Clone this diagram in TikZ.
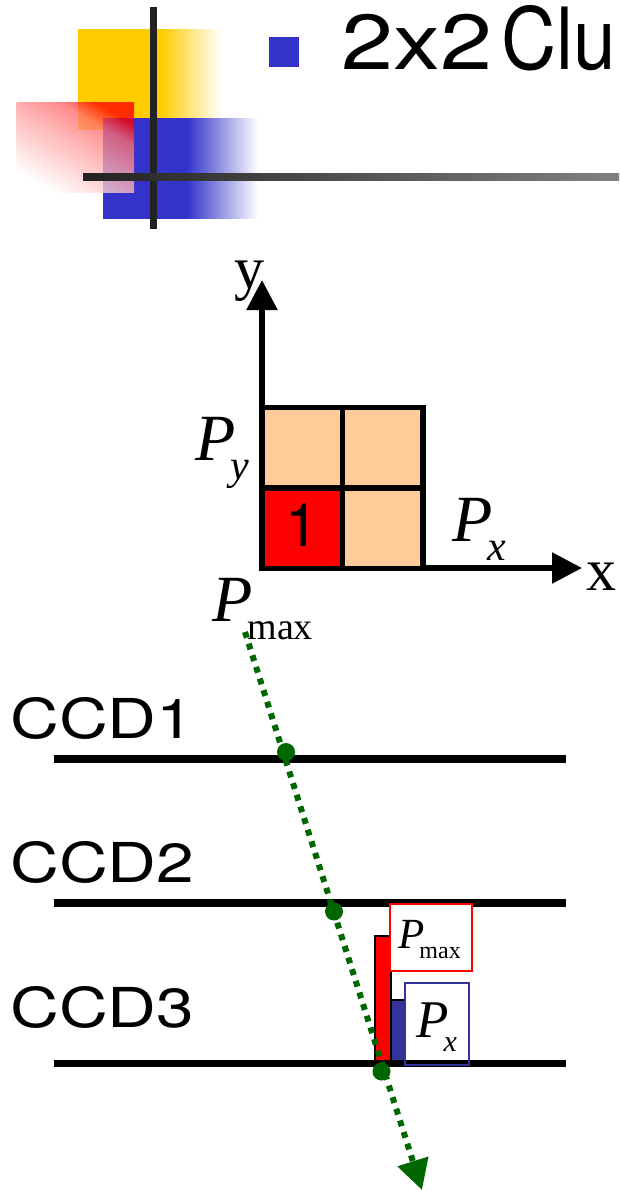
\documentclass[tikz,border=0pt]{standalone}
\usepackage{fontspec}
\setmainfont{Liberation Serif}
\newfontfamily\headfont{TeX Gyre Heros}
\usetikzlibrary{arrows.meta}
\definecolor{cBullet}{HTML}{3333CC}
\definecolor{cGold}  {HTML}{FFCC00}
\definecolor{cDark}  {HTML}{222222}
\definecolor{cCell}  {HTML}{FFCC99}
\definecolor{cRay}   {HTML}{006600}
\definecolor{cBar}   {HTML}{333399}
\pgfdeclarehorizontalshading{goldfade}{100bp}{color(0bp)=(cGold); color(54bp)=(cGold); color(75bp)=(white); color(100bp)=(white)}
\pgfdeclarehorizontalshading{bluefade}{100bp}{color(0bp)=(cBullet); color(52bp)=(cBullet); color(75bp)=(white); color(100bp)=(white)}
\pgfdeclareverticalshading{redfade}{100bp}{color(0bp)=(white); color(25bp)=(white); color(52bp)=(red!36!white); color(66bp)=(red!58!white); color(75bp)=(red); color(100bp)=(red)}
\tikzset{
  cellbox/.style={draw=black, line width=5.5pt, minimum size=80.5pt, inner sep=0pt},
  axisline/.style={line width=5.5pt, -{Triangle[length=30pt,width=30pt]}},
  ccdline/.style={line width=7.5pt},
  ccdlabel/.style={anchor=base west, inner sep=0pt, font=\headfont\fontsize{55}{55}\selectfont},
  hitdot/.style={circle, fill=cRay, minimum size=18pt, inner sep=0pt},
  barbox/.style={draw=black, line width=2pt},
  serif/.style={anchor=base west, inner sep=0pt},
}
% P with a subscript: size of P, size of subscript, drop, subscript
\newcommand{\PSub}[4]{{\fontsize{#1}{#1}\selectfont\textit{P}\kern-5pt\raisebox{-#3pt}{\fontsize{#2}{#2}\selectfont #4}}}
\begin{document}
\begin{tikzpicture}[x=1pt, y=-1pt]
  \useasboundingbox (0,0) rectangle (619,1190);
  % title block
  \shade[shading=goldfade] (78,30) rectangle (221,130);
  \shade[shading=bluefade] (103,119) rectangle (258,219);
  \shade[shading=redfade, shading angle=-30, opacity=.78] (16.5,103) rectangle (134,193);
  \draw[cDark, line width=7pt] (153.5,7) -- (153.5,229);
  \shade[left color=cDark, right color=cDark!57!white] (83,174) rectangle (619,181);
  \fill[cBullet] (269,37) rectangle (299,67);
  \node[anchor=base west, inner sep=0pt, font=\headfont\fontsize{78}{78}\selectfont] (title) at (341,70)
    {\scalebox{1.2}[1]{2x2}\hspace{9pt}\scalebox{.98}[1.1]{Clu}};
  % axes
  \coordinate (orig) at (262,568);
  \coordinate (yTip) at (262,280);
  \coordinate (xTip) at (582,568);
  \draw[axisline] (orig) -- (yTip);
  \draw[axisline] (orig) -- (xTip);
  % 2x2 cells
  \foreach \n/\x/\y/\c in {a/302/447.5/cCell, b/382.5/447.5/cCell, d/382.5/528/cCell, c/302/528/red}
    \node[cellbox, fill=\c] (cell\n) at (\x,\y) {};
  \node[anchor=base, inner sep=0pt, font=\headfont\fontsize{60}{60}\selectfont] (one) at (cellc.center |- 0,546) {1};
  \node[serif, font=\fontsize{60}{60}\selectfont] (yLabel) at (234,288) {y};
  \node[serif, font=\fontsize{60}{60}\selectfont] (xLabel) at (586,590) {x};
  \node[serif] (Py) at (195,460.5) {\PSub{66}{42}{19}{\textit{y}}};
  \node[serif] (Px) at (452,541.5) {\PSub{66}{42}{19}{\textit{x}}};
  \node[serif] (Pmax) at (212,621.5) {\PSub{66}{38}{18}{max}};
  % CCD planes
  \foreach \n/\y/\t in {1/738/CCD1, 2/882/CCD2, 3/1027/CCD3}
    \node[ccdlabel] (ccdText\n) at (10,\y) {\scalebox{1.23}[1]{\t}};
  \coordinate (lineAw) at (54,759);   \coordinate (lineAe) at (566,759);
  \coordinate (lineBw) at (54,903);   \coordinate (lineBe) at (566,903);
  \coordinate (lineCw) at (54,1063.5); \coordinate (lineCe) at (566,1063.5);
  \draw[ccdline] (lineAw) -- (lineAe);
  \draw[ccdline] (lineBw) -- (lineBe);
  % charge bars
  \fill[red, barbox] (374.5,936) rectangle (390.5,1063);
  \fill[cBar, barbox] (390.5,1000) rectangle (408,1063);
  \node[draw=red, line width=1.5pt, fill=white, anchor=north west, minimum width=82pt, minimum height=67pt, inner sep=0pt] (maxBox) at (389,903) {};
  \node[fill=white, anchor=north west, minimum width=64pt, minimum height=77pt, inner sep=0pt] (xBox) at (405,983) {};
  \draw[ccdline] (lineCw) -- (lineCe);
  \draw[cBar, line width=1.5pt] (xBox.north west) rectangle (405+64,1065);
  \node[serif] (maxText) at (398,958) {\raisebox{10pt}{\fontsize{43}{43}\selectfont\textit{P}}\kern-5pt{\fontsize{24}{24}\selectfont max}};
  \node[serif] (xText) at (416,1037) {\PSub{53}{30}{14}{\textit{x}}};
  % particle track
  \coordinate (rayStart) at (245,632);
  \coordinate (rayEnd) at (422,1190);
  \draw[cRay, line width=6pt, dash pattern=on 6pt off 6.2pt, -{Triangle[length=30pt,width=31pt]}] (rayStart) -- (rayEnd);
  \foreach \n/\x/\y in {A/286/752, B/334/911.5, C/381.5/1071.5}
    \node[hitdot] (hit\n) at (\x,\y) {};
\end{tikzpicture}
\end{document}
